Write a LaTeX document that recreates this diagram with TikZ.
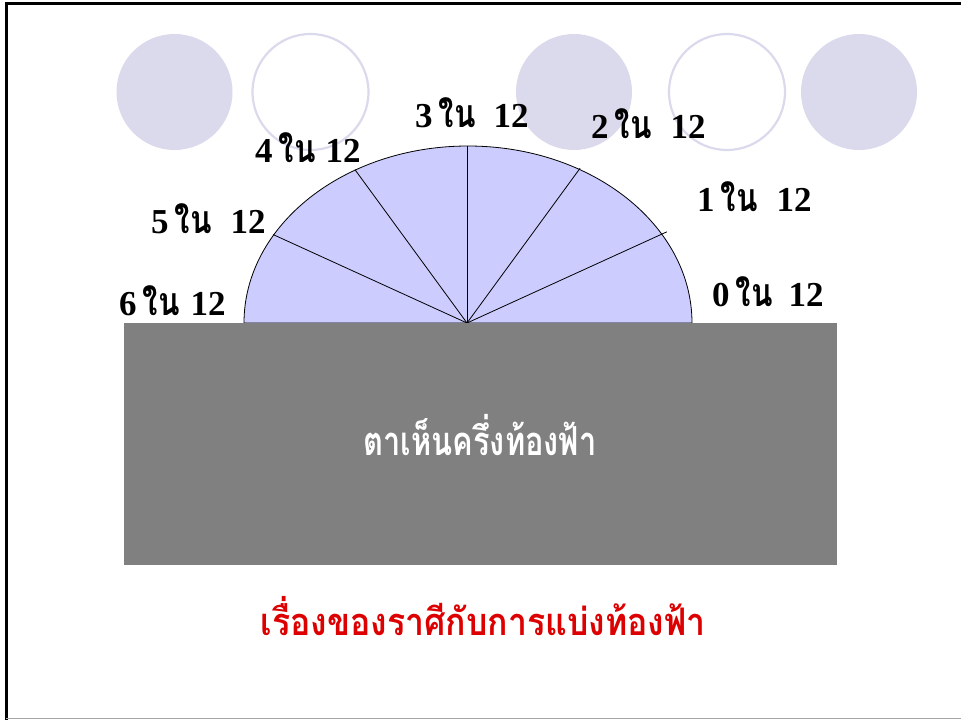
\documentclass[tikz,border=0pt]{standalone}
\usepackage{fontspec}
\usetikzlibrary{calc}
\setmainfont{Liberation Serif}
\newfontfamily\thfont[Script=Thai]{Loma}
\definecolor{skyfill}{HTML}{CCCCFF}
\definecolor{dotfill}{HTML}{DADAEC}
\definecolor{groundgray}{HTML}{808080}
\definecolor{titlered}{HTML}{DD0000}
\newcommand\inlbl[3]{\bfseries #1\hspace{6pt}\scalebox{0.9}[1.12]{\thfont\bfseries ใน}\hspace{#3}#2}
\tikzset{
  dotfull/.style={fill=dotfill, draw=none},
  dotring/.style={draw=dotfill, line width=2.2pt, fill=none},
  spoke/.style={draw=black, line width=0.8pt},
  lbl/.style={anchor=base west, inner sep=0pt, font=\fontsize{35}{40}\selectfont},
}
\begin{document}
\begin{tikzpicture}[x=1pt,y=-1pt]
\useasboundingbox (0,0) rectangle (961,720);
% slide frame
\draw[black, line width=3pt] (6,720) -- (6,3) -- (961,3);
\draw[groundgray!70, line width=1.5pt] (6,718.5) -- (961,718.5);
% decorative circles
\fill[dotfull] (174.5,92) circle[radius=58];
\draw[dotring] (310.5,92) circle[radius=58];
\fill[dotfull] (574,92) circle[radius=58];
\draw[dotring] (727,92) circle[radius=58];
\fill[dotfull] (859,92) circle[radius=58];
% sky half-ellipse
\coordinate (c) at (467,323);
\filldraw[fill=skyfill, draw=black, line width=0.8pt] (692,323) arc[start angle=0, end angle=-180, x radius=224, y radius=177] -- cycle;
\foreach \a/\f [count=\i] in {30/1.03, 60/1.01, 90/1, 120/1, 150/1} {
  \coordinate (s\i) at ($(c)+({224*\f*cos(\a)},{-177*\f*sin(\a)})$);
  \draw[spoke] (c) -- (s\i);
}
% ground
\fill[groundgray] (124,323) rectangle (837,565);
\node[text=white, font=\thfont\bfseries\fontsize{40}{44}\selectfont, anchor=base] (eye) at (480,455) {\scalebox{0.77}[1]{ตาเห็นครึ่งท้องฟ้า}};
% labels
\node[lbl] (l3) at (415,127) {\inlbl{3}{12}{18pt}};
\node[lbl] (l4) at (255,162) {\inlbl{4}{12}{10pt}};
\node[lbl] (l5) at (151,233) {\inlbl{5}{12}{19pt}};
\node[lbl] (l6) at (119,315) {\inlbl{6}{12}{11pt}};
\node[lbl] (l2) at (591,138) {\inlbl{2}{12}{19pt}};
\node[lbl] (l1) at (697,211) {\inlbl{1}{12}{19pt}};
\node[lbl] (l0) at (712,306) {\inlbl{0}{12}{16pt}};
% title
\node[text=titlered, font=\thfont\bfseries\fontsize{38}{42}\selectfont, anchor=base] (title) at (483,635) {\scalebox{0.89}[1]{เรื่องของราศีกับการแบ่งท้องฟ้า}};
\end{tikzpicture}
\end{document}
